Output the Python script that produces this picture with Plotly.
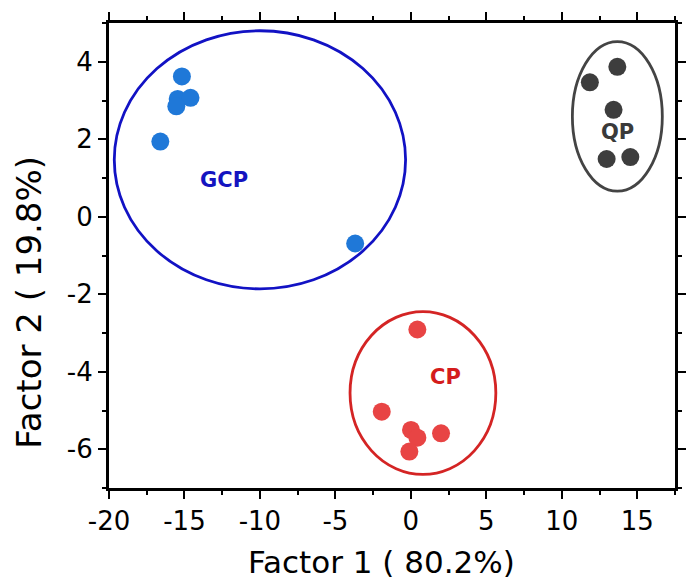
import plotly.graph_objects as go

# Sample scores on the first two factors
gcp_x = [-15.17, -15.45, -14.6, -15.54, -16.6, -3.69]
gcp_y = [3.62, 3.04, 3.07, 2.85, 1.94, -0.69]

qp_x = [13.68, 11.86, 13.43, 12.97, 14.54]
qp_y = [3.87, 3.47, 2.76, 1.49, 1.54]

cp_x = [0.43, -1.93, 0.01, 0.43, 2.0, -0.1]
cp_y = [-2.91, -5.03, -5.5, -5.7, -5.59, -6.06]

# Group labels and confidence ellipses (center x, center y, radius x, radius y)
groups = ["GCP", "QP", "CP"]
ell_cx = [-10.0, 13.68, 0.8]
ell_cy = [1.47, 2.59, -4.55]
ell_rx = [9.65, 2.98, 4.83]
ell_ry = [3.33, 1.93, 2.10]
label_x = [-12.4, 13.67, 2.31]
label_y = [0.94, 2.19, -4.13]

marker_colors = ["#1f78d8", "#3d3d3d", "#e84444"]
line_colors = ["#1212c4", "#444444", "#d42424"]
text_colors = ["#1414c0", "#3a3a3a", "#d41c1c"]

x_title = "Factor 1 ( 80.2%)"
y_title = "Factor 2 ( 19.8%)"

FONT = "DejaVu Sans, Liberation Sans, Arial"

fig = go.Figure()

for xs, ys, name, mc in zip([gcp_x, qp_x, cp_x], [gcp_y, qp_y, cp_y], groups, marker_colors):
    fig.add_trace(go.Scatter(
        x=xs, y=ys, mode="markers", name=name,
        marker=dict(size=18, color=mc, line=dict(width=0)),
        showlegend=False,
    ))

for i, g in enumerate(groups):
    fig.add_shape(
        type="circle", xref="x", yref="y", layer="below",
        x0=ell_cx[i] - ell_rx[i], x1=ell_cx[i] + ell_rx[i],
        y0=ell_cy[i] - ell_ry[i], y1=ell_cy[i] + ell_ry[i],
        line=dict(color=line_colors[i], width=2.8),
    )
    fig.add_annotation(
        x=label_x[i], y=label_y[i], text="<b>%s</b>" % g, showarrow=False,
        font=dict(family=FONT, size=21, color=text_colors[i]),
    )

# Axis titles placed as paper annotations
fig.add_annotation(
    xref="paper", yref="paper", x=0.482, y=-0.16, xanchor="center", yanchor="middle",
    text=x_title, showarrow=False, font=dict(family=FONT, size=31, color="black"),
)
fig.add_annotation(
    xref="paper", yref="paper", x=-0.142, y=0.40, xanchor="center", yanchor="middle",
    text=y_title, textangle=-90, showarrow=False,
    font=dict(family=FONT, size=34, color="black"),
)

axis_common = dict(
    showline=True, linecolor="black", linewidth=3, mirror="allticks",
    ticks="outside", ticklen=8, tickwidth=2, tickcolor="black",
    showgrid=False, zeroline=False,
    tickfont=dict(family=FONT, size=26, color="black"),
)

fig.update_layout(
    width=688, height=586,
    margin=dict(l=109, r=2, t=23, b=98),
    paper_bgcolor="white", plot_bgcolor="white",
    xaxis=dict(
        range=[-20, 17.5], tickmode="array",
        tickvals=[-20, -15, -10, -5, 0, 5, 10, 15],
        ticktext=["-20", "-15", "-10", "-5", "0", "5", "10", "15"],
        minor=dict(dtick=2.5, ticks="outside", ticklen=4, tickwidth=2, tickcolor="black"),
        **axis_common,
    ),
    yaxis=dict(
        range=[-7, 5], tickmode="array",
        tickvals=[-6, -4, -2, 0, 2, 4],
        ticktext=["-6", "-4", "-2", "0", "2", "4"],
        minor=dict(dtick=1, ticks="outside", ticklen=4, tickwidth=2, tickcolor="black"),
        **axis_common,
    ),
)

fig.write_html("out.html")
